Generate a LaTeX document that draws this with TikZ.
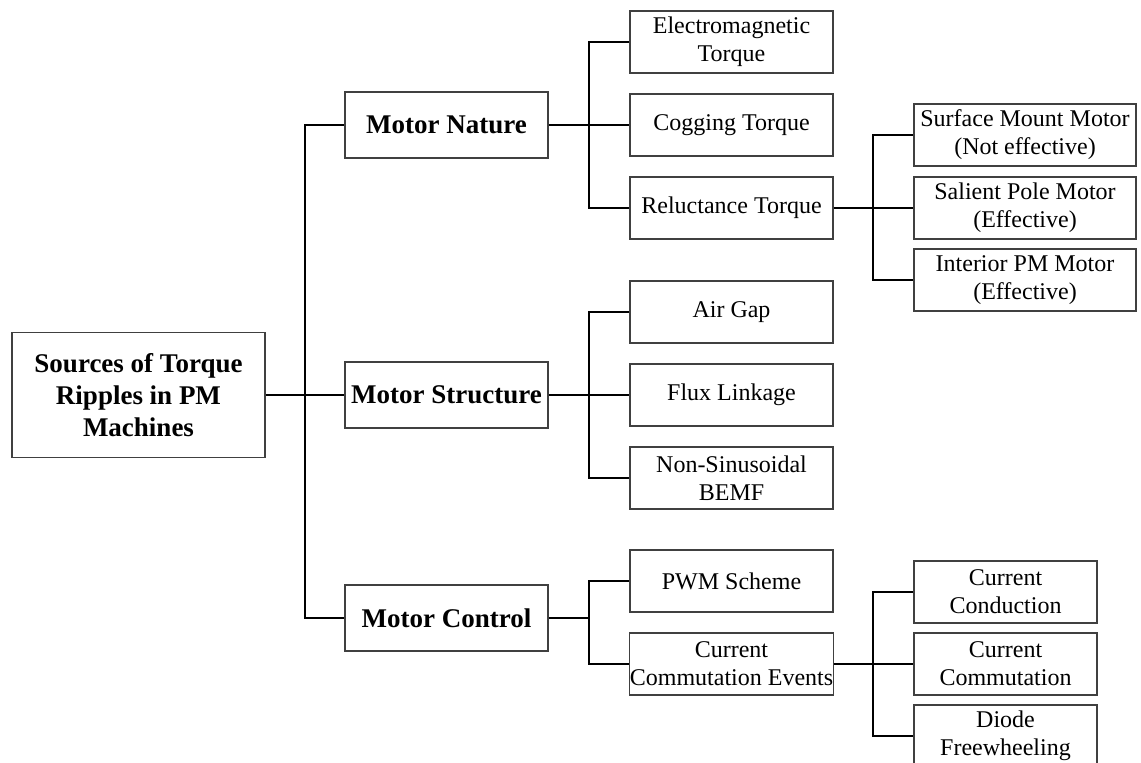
\documentclass[tikz,border=0pt]{standalone}
\usepackage{fontspec}
\setmainfont{Liberation Serif}
\usepackage{tikz}
\usetikzlibrary{positioning}

\begin{document}
\begin{tikzpicture}[-,x=1pt,y=-1pt,line width=1.6pt,
    srcbox/.style={draw=black!75, line width=1.1pt, align=center, inner sep=0pt,
                   minimum width=253pt, minimum height=125pt,
                   font=\fontsize{27}{32}\selectfont\bfseries},
    catbox/.style={draw=black!75, line width=1.1pt, align=center, inner sep=0pt,
                   minimum width=203pt, minimum height=66pt,
                   font=\fontsize{27}{32}\selectfont\bfseries},
    itembox/.style={draw=black!75, line width=1.1pt, align=center, inner sep=0pt,
                    minimum width=203pt, minimum height=62pt,
                    font=\fontsize{24}{28}\selectfont},
    subbox/.style={itembox, minimum width=222pt},
    evbox/.style={itembox, minimum width=183pt},
    elbow/.style={to path={|- (\tikztotarget)}}]
  \clip (0,0) rectangle (1141,763);
  % root and categories
  \node (src) [srcbox] at (138.5,395) {Sources of Torque\\Ripples in PM\\Machines};
  \node (nature)    [catbox] at (446.5,125) {Motor Nature};
  \node (structure) [catbox] at (446.5,395) {Motor Structure};
  \node (control)   [catbox] at (446.5,618) {Motor Control};
  % second level
  \node (emt)  [itembox] at (731.5,42)  {Electromagnetic\\Torque};
  \node (cogt) [itembox] at (731.5,125) {Cogging Torque};
  \node (relt) [itembox] at (731.5,208) {Reluctance Torque};
  \node (gap)  [itembox] at (731.5,312) {Air Gap};
  \node (flux) [itembox] at (731.5,395) {Flux Linkage};
  \node (bemf) [itembox] at (731.5,478) {Non-Sinusoidal\\BEMF};
  \node (pwm)  [itembox] at (731.5,581) {PWM Scheme};
  \node (cce)  [itembox] at (731.5,664) {Current\\Commutation Events};
  % third level
  \node (smm) [subbox] at (1025,135) {Surface Mount Motor\\(Not effective)};
  \node (spm) [subbox] at (1025,208) {Salient Pole Motor\\(Effective)};
  \node (ipm) [subbox] at (1025,280) {Interior PM Motor\\(Effective)};
  \node (ccond) [evbox] at (1005.5,592) {Current\\Conduction};
  \node (ccomm) [evbox] at (1005.5,664) {Current\\Commutation};
  \node (diode) [evbox] at (1005.5,736) {Diode\\Freewheeling};
  % junctions
  \coordinate (j0) at (305,395);
  \coordinate (j1) at (589,125);
  \coordinate (j2) at (589,395);
  \coordinate (j3) at (589,618);
  \coordinate (j4) at (873,208);
  \coordinate (j5) at (873,664);
  \path (src) edge (j0)
        (j0) edge[elbow] (nature.west)
             edge (structure)
             edge[elbow] (control.west)
        (nature) edge (j1)
        (j1) edge[elbow] (emt.west)
             edge (cogt)
             edge[elbow] (relt.west)
        (structure) edge (j2)
        (j2) edge[elbow] (gap.west)
             edge (flux)
             edge[elbow] (bemf.west)
        (control) edge (j3)
        (j3) edge[elbow] (pwm.west)
             edge[elbow] (cce.west)
        (relt) edge (j4)
        (j4) edge[elbow] (smm.west)
             edge (spm)
             edge[elbow] (ipm.west)
        (cce) edge (j5)
        (j5) edge[elbow] (ccond.west)
             edge (ccomm)
             edge[elbow] (diode.west);
\end{tikzpicture}
\end{document}
